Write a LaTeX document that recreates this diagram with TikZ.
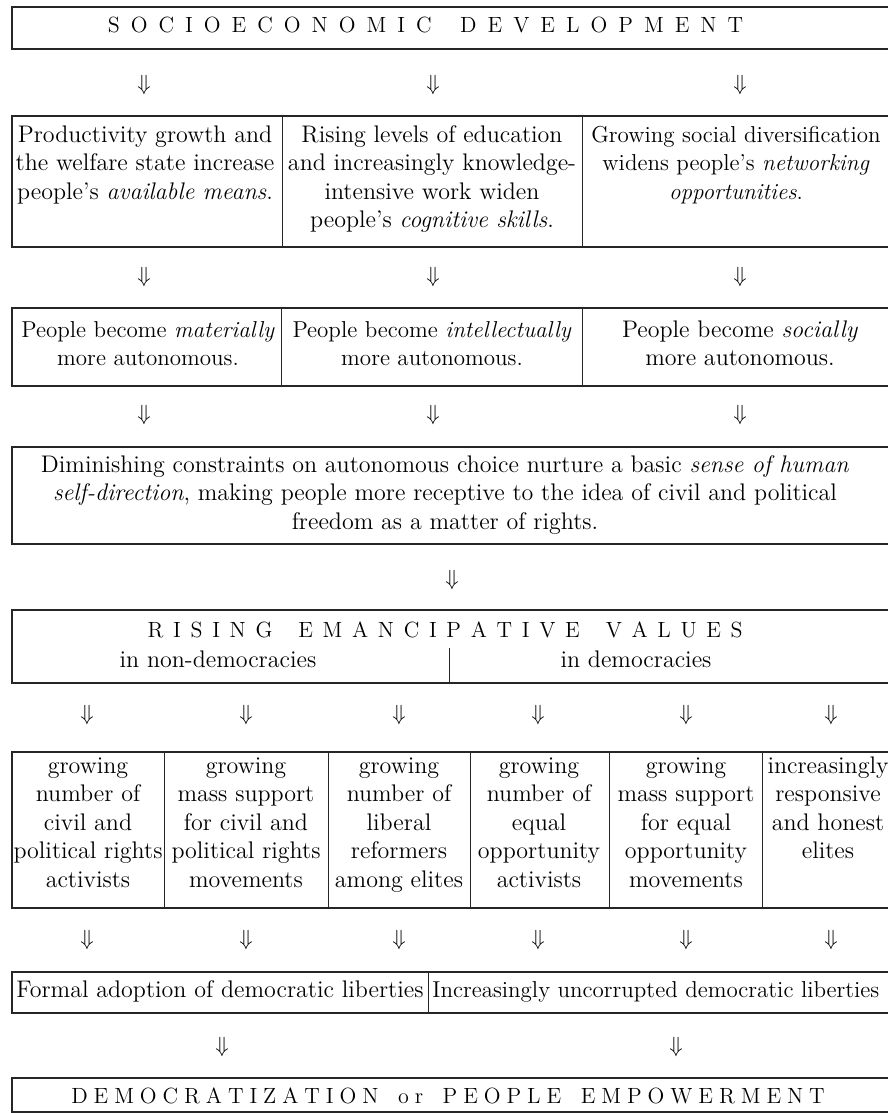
\documentclass[tikz,border=0pt]{standalone}
\usepackage{amsmath}

\makeatletter
\newcommand{\spacedcaps}[3]{%
    \def\sc@gap{#1}\def\sc@word{#2}%
    \@tfor\sc@tok:=#3\do{\sc@tok\hspace{\sc@gap}}\hspace{-\sc@gap}}
\newcommand{\wgap}{\hspace{\sc@word}}
\makeatother

\tikzset{
    cell_text/.style={anchor=north, align=center, inner sep=0pt, font=\fontsize{12}{14.25}\selectfont},
    small_cell/.style={cell_text, font=\fontsize{11.5}{14.25}\selectfont},
    title_text/.style={anchor=base, inner sep=0pt, font=\fontsize{11}{13}\selectfont},
    down_arrow/.style={inner sep=0pt, font=\fontsize{11}{13}\selectfont},
    box_line/.style={line width=0.6pt, draw=black!85},
    divider/.style={line width=0.45pt, draw=black!85},
}

\begin{document}
\begin{tikzpicture}[x=0.5pt, y=-0.5pt]
    \useasboundingbox (0,0) rectangle (888,1113);
    \fill [white] (0,0) rectangle (888,1113);

    %%%%%%%%%%%%%%%%%%%%%%%%%%%%%
    % SOCIOECONOMIC DEVELOPMENT %
    %%%%%%%%%%%%%%%%%%%%%%%%%%%%%
    \draw [box_line] (12,7) rectangle (892,49);
    \node (socio) [title_text] at (431,33)
        {\spacedcaps{0.5em}{0.3em}{SOCIOECONOMIC\wgap DEVELOPMENT}};

    \node (down_1a) [down_arrow] at (144,85) {$\Downarrow$};
    \node (down_1b) [down_arrow] at (433,85) {$\Downarrow$};
    \node (down_1c) [down_arrow] at (740,85) {$\Downarrow$};

    %%%%%%%%%%%%%%%%%%%%%%%%%%%%%
    % MEANS, SKILLS, NETWORKING %
    %%%%%%%%%%%%%%%%%%%%%%%%%%%%%
    \draw [box_line] (12,116) rectangle (892,247);
    \draw [divider] (282,116) -- (282,247);
    \draw [divider] (582,116) -- (582,247);
    \node (means) [cell_text] at (145,122)
        {\strut Productivity growth and\\ the welfare state increase\\ people's \textit{available means}.};
    \node (skills) [cell_text] at (432,122)
        {\strut Rising levels of education\\ and increasingly knowledge-\\ intensive work widen\\ people's \textit{cognitive skills}.};
    \node (network) [small_cell] at (736,122)
        {\strut Growing social diversification\\ widens people's \textit{networking}\\ \textit{opportunities}.};

    \node (down_2a) [down_arrow] at (144,277) {$\Downarrow$};
    \node (down_2b) [down_arrow] at (433,277) {$\Downarrow$};
    \node (down_2c) [down_arrow] at (740,277) {$\Downarrow$};

    %%%%%%%%%%%%%%%%%%%%%%%%%
    % AUTONOMOUS PEOPLE     %
    %%%%%%%%%%%%%%%%%%%%%%%%%
    \draw [box_line] (12,308) rectangle (892,386);
    \draw [divider] (281,308) -- (281,386);
    \draw [divider] (582,308) -- (582,386);
    \node (material) [small_cell] at (148,317)
        {\strut People become \textit{materially}\\ more autonomous.};
    \node (intellect) [small_cell] at (432,317)
        {\strut People become \textit{intellectually}\\ more autonomous.};
    \node (social) [cell_text] at (740,317)
        {\strut People become \textit{socially}\\ more autonomous.};

    \node (down_3a) [down_arrow] at (144,415) {$\Downarrow$};
    \node (down_3b) [down_arrow] at (433,415) {$\Downarrow$};
    \node (down_3c) [down_arrow] at (740,415) {$\Downarrow$};

    %%%%%%%%%%%%%%%%%%%%%%%%%
    % SELF-DIRECTION        %
    %%%%%%%%%%%%%%%%%%%%%%%%%
    \draw [box_line] (12,447) rectangle (892,544);
    \node (selfdir) [cell_text] at (445,452)
        {\strut Diminishing constraints on autonomous choice nurture a basic \textit{sense of human}\\
         \textit{self-direction}, making people more receptive to the idea of civil and political\\
         freedom as a matter of rights.};

    \node (down_4) [down_arrow] at (452,580) {$\Downarrow$};

    %%%%%%%%%%%%%%%%%%%%%%%%%%%%%%
    % RISING EMANCIPATIVE VALUES %
    %%%%%%%%%%%%%%%%%%%%%%%%%%%%%%
    \draw [box_line] (12,610) rectangle (892,683);
    \draw [divider] (449,648) -- (449,683);
    \node (values) [title_text] at (450,637)
        {\spacedcaps{0.44em}{0.3em}{RISING\wgap EMANCIPATIVE\wgap VALUES}};
    \node (nondemo) [cell_text] at (218,647)
        {\strut in non-democracies};
    \node (demo) [cell_text] at (636,647)
        {\strut in democracies};

    \node (down_5a) [down_arrow] at (87,715) {$\Downarrow$};
    \node (down_5b) [down_arrow] at (246,715) {$\Downarrow$};
    \node (down_5c) [down_arrow] at (399,715) {$\Downarrow$};
    \node (down_5d) [down_arrow] at (538,715) {$\Downarrow$};
    \node (down_5e) [down_arrow] at (686,715) {$\Downarrow$};
    \node (down_5f) [down_arrow] at (831,715) {$\Downarrow$};

    %%%%%%%%%%%%%%%%%%%%%%%%%
    % ACTORS                %
    %%%%%%%%%%%%%%%%%%%%%%%%%
    \draw [box_line] (12,752) rectangle (892,908);
    \draw [divider] (164,752) -- (164,908);
    \draw [divider] (328,752) -- (328,908);
    \draw [divider] (470,752) -- (470,908);
    \draw [divider] (609,752) -- (609,908);
    \draw [divider] (762,752) -- (762,908);
    \node (rights_act) [cell_text] at (88,753)
        {\strut growing\\ number of\\ civil and\\ political rights\\ activists};
    \node (rights_mov) [cell_text] at (246,753)
        {\strut growing\\ mass support\\ for civil and\\ political rights\\ movements};
    \node (reformers) [cell_text] at (399,753)
        {\strut growing\\ number of\\ liberal\\ reformers\\ among elites};
    \node (equal_act) [cell_text] at (539,753)
        {\strut growing\\ number of\\ equal\\ opportunity\\ activists};
    \node (equal_mov) [cell_text] at (686,753)
        {\strut growing\\ mass support\\ for equal\\ opportunity\\ movements};
    \node (elites) [cell_text] at (828,753)
        {\strut increasingly\\ responsive\\ and honest\\ elites};

    \node (down_6a) [down_arrow] at (87,940) {$\Downarrow$};
    \node (down_6b) [down_arrow] at (246,940) {$\Downarrow$};
    \node (down_6c) [down_arrow] at (399,940) {$\Downarrow$};
    \node (down_6d) [down_arrow] at (538,940) {$\Downarrow$};
    \node (down_6e) [down_arrow] at (686,940) {$\Downarrow$};
    \node (down_6f) [down_arrow] at (831,940) {$\Downarrow$};

    %%%%%%%%%%%%%%%%%%%%%%%%%
    % LIBERTIES             %
    %%%%%%%%%%%%%%%%%%%%%%%%%
    \draw [box_line] (12,972) rectangle (892,1013);
    \draw [divider] (428,972) -- (428,1013);
    \node (formal) [cell_text] at (220,977)
        {\strut Formal adoption of democratic liberties};
    \node (uncorrupt) [small_cell, anchor=north west] at (432,977)
        {\strut Increasingly uncorrupted democratic liberties};

    \node (down_7a) [down_arrow] at (222,1047) {$\Downarrow$};
    \node (down_7b) [down_arrow] at (676,1047) {$\Downarrow$};

    %%%%%%%%%%%%%%%%%%%%%%%%%
    % DEMOCRATIZATION       %
    %%%%%%%%%%%%%%%%%%%%%%%%%
    \draw [box_line] (12,1078) rectangle (892,1112);
    \node (empower) [title_text] at (451,1103)
        {\spacedcaps{0.27em}{0.35em}{DEMOCRATIZATION\wgap or\wgap PEOPLE\wgap EMPOWERMENT}};
\end{tikzpicture}
\end{document}
